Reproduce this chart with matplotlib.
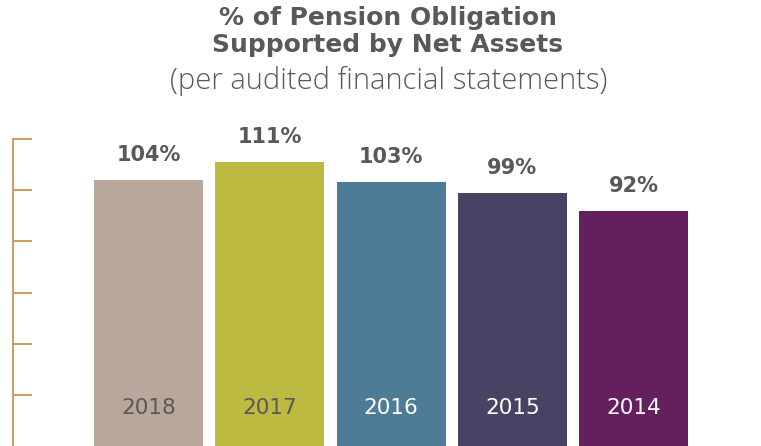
import matplotlib
matplotlib.use("Agg")
import matplotlib.pyplot as plt

years = ["2018", "2017", "2016", "2015", "2014"]
values = [104, 111, 103, 99, 92]
labels = ["104%", "111%", "103%", "99%", "92%"]
colors = ["#B8A89B", "#BDBA42", "#4E7C96", "#4A4264", "#64205E"]
year_colors = ["#58595B", "#58595B", "#FFFFFF", "#FFFFFF", "#FFFFFF"]
yticks = [20, 40, 60, 80, 100, 120]

W, H = 761, 446
dpi = 100
fig = plt.figure(figsize=(W / dpi, H / dpi), dpi=dpi)

# axes: left at x=13px, bottom at 0, top at y=139px (=120%)
ax = fig.add_axes([13 / W, 0, 748 / W, (446 - 139) / H])
x = list(range(len(years)))
ax.bar(x, values, width=0.9, color=colors, zorder=2)
ax.set_xlim(-1.1175, 5.05)
ax.set_ylim(0, 120)

for xi, v, lab, yr, yc in zip(x, values, labels, years, year_colors):
    ax.text(xi, v + 9.8, lab, ha="center", va="center", fontsize=15,
            fontweight="bold", color="#58595B", family="DejaVu Sans", clip_on=False)
    ax.text(xi, 15, yr, ha="center", va="center", fontsize=15.5,
            color=yc, family="DejaVu Sans")

for s in ["top", "right", "bottom"]:
    ax.spines[s].set_visible(False)
ax.spines["left"].set_color("#C8964E")
ax.spines["left"].set_linewidth(1.3)
ax.set_xticks([])
ax.set_yticks(yticks)
ax.set_yticklabels([])
ax.tick_params(axis="y", direction="in", length=19 * 72 / dpi, width=1.3,
               color="#C8964E", left=True)

fig.text(388 / W, 1 - 18 / H, "% of Pension Obligation", ha="center", va="center",
         fontsize=18, fontweight="bold", color="#58595B")
fig.text(388 / W, 1 - 45 / H, "Supported by Net Assets", ha="center", va="center",
         fontsize=18, fontweight="bold", color="#58595B")
fig.text(389 / W, 1 - 81 / H, "(per audited financial statements)", ha="center",
         va="center", fontsize=21, fontweight="light", family="Open Sans",
         color="#58595B")

fig.savefig("out.png", dpi=dpi)
